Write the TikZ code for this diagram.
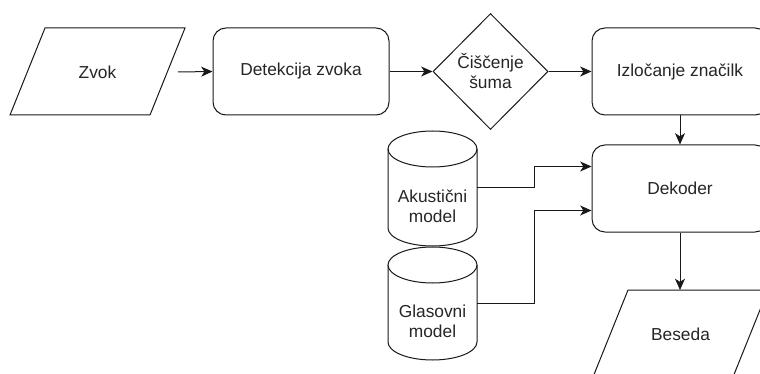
\documentclass[tikz,border=0pt]{standalone}
\usepackage{fontspec}
\setmainfont{Liberation Sans}
\usetikzlibrary{shapes.geometric,arrows.meta,calc}
\begin{document}
\begin{tikzpicture}[x=0.75pt,y=-0.75pt,
  every node/.style={font=\fontsize{13}{15}\selectfont, text=black!85},
  ln/.style={line width=0.75pt, draw=black!90},
  arr/.style={ln, -{Stealth[length=8.5pt,width=7.5pt,inset=2.4pt]}},
  rbox/.style={ln, rectangle, rounded corners=9.75pt, minimum width=132pt, minimum height=65.25pt, inner sep=0pt, align=center},
  dia/.style={ln, diamond, minimum width=86.25pt, minimum height=87pt, inner sep=0pt, align=center},
  lbl/.style={inner sep=0pt, align=center}]
\clip (0,0) rectangle (760,374);
\fill[white] (0,0) rectangle (760,374);

% Zvok (parallelogram)
\draw[ln] (45,28) -- (185,28) -- (150,115) -- (10,115) -- cycle;
\node[lbl] (zvok) at (97.5,72) {Zvok};
\coordinate (zvokout) at (178,72);

% Detekcija zvoka
\node[rbox] (det) at (301,71.5) {Detekcija zvoka};

% Diamond
\node[dia] (cis) at (490.5,71.5) {Čiščenje\\šuma};

% Izločanje značilk
\node[rbox] (izl) at (680,71.5) {Izločanje značilk};

% Dekoder
\node[rbox] (dek) at (680,188.5) {Dekoder};
\coordinate (d1) at ($(dek.north west)!0.25!(dek.south west)$);
\coordinate (d2) at ($(dek.north west)!0.75!(dek.south west)$);

% Akusticni model cylinder
\filldraw[ln, fill=white] (388,149) -- (388,228) arc[start angle=180,end angle=0,x radius=44.5,y radius=18] -- (477,149);
\draw[ln] (432.5,149) ellipse [x radius=44.5, y radius=18];
\node[lbl] (aku) at (432.5,206.5) {Akustični\\model};
\coordinate (akout) at (477,188);

% Glasovni model cylinder
\filldraw[ln, fill=white] (388,265) -- (388,342) arc[start angle=180,end angle=0,x radius=44.5,y radius=18] -- (477,265);
\draw[ln, fill=white] (432.5,265) ellipse [x radius=44.5, y radius=18];
\node[lbl] (gla) at (432.5,321.5) {Glasovni\\model};
\coordinate (glout) at (477,303.5);

% Beseda (parallelogram)
\draw[ln] (628,290) -- (768,290) -- (733,377) -- (593,377) -- cycle;
\node[lbl] (bes) at (680.5,334) {Beseda};
\coordinate (besin) at (680,290);

% connectors
\draw[arr] (zvokout) -- (det.west);
\draw[arr] (det.east) -- (cis.west);
\draw[arr] (cis.east) -- (izl.west);
\draw[arr] (izl.south) -- (dek.north);
\draw[arr] (dek.south) -- (besin);
\coordinate (m1) at ($(akout)!0.5!(d1)$);
\coordinate (m2) at ($(glout)!0.5!(d2)$);
\draw[arr] (akout) -| (m1) |- (d1);
\draw[arr] (glout) -| (m2) |- (d2);
\end{tikzpicture}
\end{document}
